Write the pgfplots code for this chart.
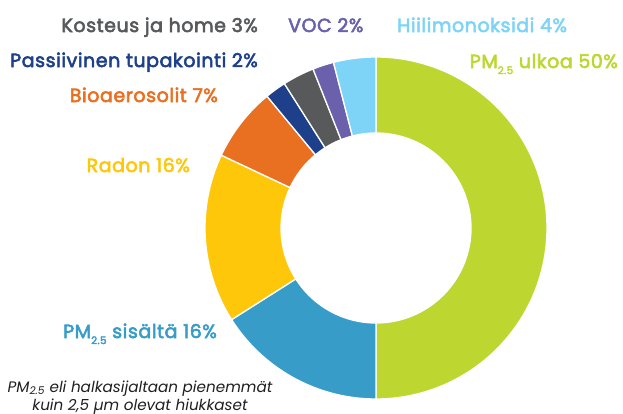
\documentclass[border=0pt]{standalone}
\usepackage{pgfplots}
\pgfplotsset{compat=1.18}
\usepackage{pgfplotstable}
\usepackage{fontspec}
\setmainfont{Poppins}
\newfontfamily\labfont{Poppins}[FakeBold=3, LetterSpace=3]
\definecolor{cUlkoa}{HTML}{BDD730}
\definecolor{cSisalta}{HTML}{379CC8}
\definecolor{cRadon}{HTML}{FFC70A}
\definecolor{cBio}{HTML}{E97020}
\definecolor{cPass}{HTML}{1E408A}
\definecolor{cKost}{HTML}{58595B}
\definecolor{cVoc}{HTML}{6A60AB}
\definecolor{cCo}{HTML}{7DD4F6}
\pgfplotstableread{
name value color
ulkoa 50 cUlkoa
sisalta 16 cSisalta
radon 16 cRadon
bio 7 cBio
pass 2 cPass
kosteus 3 cKost
voc 2 cVoc
co 4 cCo
}\donut
\newcommand{\sub}[1]{\raisebox{-0.32em}{\fontsize{10.5}{10}\selectfont #1}}
\begin{document}
\begin{tikzpicture}
\begin{axis}[
  width=623pt, height=412pt, scale only axis,
  xmin=0, xmax=623, ymin=0, ymax=412,
  hide axis, clip=false,
  declare function={
    sliceang(\t,\a,\b)=\a+(\b-\a)*(min(\t,1)-max(min(\t,3),2)+2);
    sliceradius(\t)=171-76*(max(min(\t,2),1)-1)+76*(max(min(\t,4),3)-3);
  },
]
\path (axis cs:0,0) rectangle (axis cs:623,412);
\def\cum{0}
\pgfplotsforeachungrouped \i in {0,...,7}{
  \pgfplotstablegetelem{\i}{value}\of\donut \let\sliceval\pgfplotsretval
  \pgfplotstablegetelem{\i}{color}\of\donut \let\slicecol\pgfplotsretval
  \pgfmathsetmacro\sa{90-3.6*\cum}
  \pgfmathsetmacro\newcum{\cum+\sliceval}
  \pgfmathsetmacro\sb{90-3.6*\newcum}
  \edef\temp{\noexpand\addplot[fill=\slicecol, draw=white, line width=1.3pt, mark=none, domain=0:4, samples=401, variable=\noexpand\t] ({376+sliceradius(\noexpand\t)*cos(sliceang(\noexpand\t,\sa,\sb))}, {184+sliceradius(\noexpand\t)*sin(sliceang(\noexpand\t,\sa,\sb))});}
  \temp
  \xdef\cum{\newcum}
}
\tikzset{lab/.style={font=\labfont\fontsize{19}{20}\selectfont, inner sep=0pt}}
\node[lab, anchor=base east, text=cKost] at (axis cs:258,380) {Kosteus ja home 3\%};
\node[lab, anchor=base west, text=cVoc] at (axis cs:288,380) {VOC 2\%};
\node[lab, anchor=base west, text=cCo] at (axis cs:397,380) {Hiilimonoksidi 4\%};
\node[lab, anchor=base east, text=cUlkoa] at (axis cs:618,344) {PM\sub{2.5} ulkoa 50\%};
\node[lab, anchor=base east, text=cPass] at (axis cs:258,345) {Passiivinen tupakointi 2\%};
\node[lab, anchor=base east, text=cBio] at (axis cs:218,310) {Bioaerosolit 7\%};
\node[lab, anchor=base east, text=cRadon] at (axis cs:190,240) {Radon 16\%};
\node[lab, anchor=base east, text=cSisalta] at (axis cs:217,74) {PM\sub{2.5} sisältä 16\%};
\node[font=\fontsize{15.2}{18}\selectfont\itshape, align=center, inner sep=0pt, anchor=base, text=black!88] at (axis cs:140,2) {PM\textsubscript{2.5} eli halkasijaltaan pienemmät\\kuin 2,5 µm olevat hiukkaset};
\end{axis}
\end{tikzpicture}
\end{document}
